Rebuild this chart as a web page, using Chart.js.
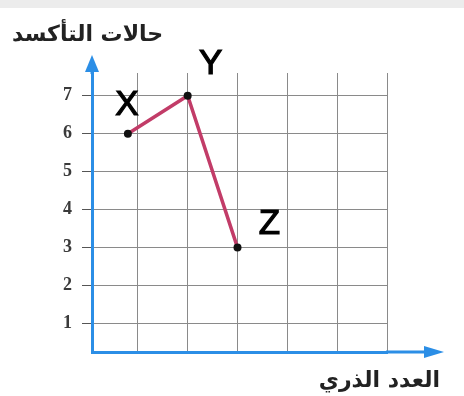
<!DOCTYPE html>
<html>
<head>
<meta charset="utf-8">
<script src="https://cdn.jsdelivr.net/npm/chart.js@4/dist/chart.umd.min.js"></script>
<style>html,body{margin:0;padding:0;background:#fff}</style>
</head>
<body>
<canvas id="chart" width="464" height="396"></canvas>
<script>
const pointNames = ["X", "Y", "Z"];
const atomicNumbers = [0.8, 2, 3];
const oxidationStates = [6, 7, 3];
const yTickValues = [1, 2, 3, 4, 5, 6, 7];
const xGridValues = [1, 2, 3, 4, 5, 6];
const yTitle = "حالات التأكسد";
const xTitle = "العدد الذري";

const BLUE = "#2b8ee6";

let ctx = document.getElementById("chart").getContext("2d");

const arrowsAndLabels = {
  id: "arrowsAndLabels",
  beforeDraw(chart) {
    const c = chart.ctx;
    c.save();
    c.fillStyle = "#ececec";
    c.fillRect(0, 0, chart.width, 8);
    c.restore();
  },
  afterDatasetsDraw(chart) {
    const c = chart.ctx;
    const a = chart.chartArea;
    c.save();
    // axis extensions + arrow heads
    c.strokeStyle = BLUE;
    c.fillStyle = BLUE;
    c.lineWidth = 3;
    c.beginPath();
    c.moveTo(a.left, a.top + 1);
    c.lineTo(a.left, 68);
    c.moveTo(a.right - 1, a.bottom);
    c.lineTo(428, a.bottom);
    c.stroke();
    c.beginPath();
    c.moveTo(a.left, 55);
    c.lineTo(a.left - 7, 72);
    c.lineTo(a.left + 7, 72);
    c.closePath();
    c.fill();
    c.beginPath();
    c.moveTo(444, a.bottom);
    c.lineTo(424, a.bottom - 6);
    c.lineTo(424, a.bottom + 6);
    c.closePath();
    c.fill();

    // x axis title
    c.fillStyle = "#222";
    c.font = "bold 22px 'DejaVu Sans'";
    c.textAlign = "right";
    c.textBaseline = "middle";
    c.fillText(xTitle, 440, 381);

    // point letters
    const offsets = [[-1, -28], [23, -31], [32, -23]];
    const meta = chart.getDatasetMeta(0);
    c.fillStyle = "#000";
    c.strokeStyle = "#000";
    c.lineWidth = 1.2;
    c.font = "35px 'Liberation Sans'";
    c.textAlign = "center";
    meta.data.forEach((pt, i) => {
      const x = pt.x + offsets[i][0];
      const y = pt.y + offsets[i][1];
      c.fillText(pointNames[i], x, y);
      c.strokeText(pointNames[i], x, y);
    });
    c.restore();
  },
};

new Chart(ctx, {
  type: "scatter",
  data: {
    datasets: [
      {
        label: "Oxidation states",
        data: atomicNumbers.map((x, i) => ({ x: x, y: oxidationStates[i] })),
        showLine: true,
        borderColor: "#c23c68",
        borderWidth: 3.5,
        backgroundColor: "#111",
        pointBackgroundColor: "#111",
        pointBorderColor: "#111",
        pointRadius: 4,
        pointBorderWidth: 0,
      },
    ],
  },
  options: {
    responsive: false,
    animation: false,
    layout: { padding: { left: 12, right: 77, top: 0, bottom: 0 } },
    plugins: {
      legend: { display: false },
      tooltip: { enabled: false },
      title: {
        display: true,
        text: yTitle,
        align: "start",
        color: "#222",
        font: { family: "'DejaVu Sans'", size: 22, weight: "bold", lineHeight: 1.2 },
        padding: { top: 21.8, bottom: 24.8 },
      },
    },
    scales: {
      x: {
        type: "linear",
        min: 0.08,
        max: 6,
        afterBuildTicks: (s) => { s.ticks = xGridValues.map((v) => ({ value: v })); },
        afterFit: (s) => { s.height = 44; },
        ticks: { display: false },
        grid: { color: "#8a8a8a", lineWidth: 1, drawTicks: false },
        border: { color: BLUE, width: 3 },
      },
      y: {
        type: "linear",
        min: 0.25,
        max: 7.6,
        afterBuildTicks: (s) => { s.ticks = yTickValues.map((v) => ({ value: v })); },
        afterFit: (s) => { s.width = 80; },
        ticks: {
          color: "#3a3a3a",
          padding: 10,
          font: { family: "'Liberation Serif'", size: 18, weight: "bold" },
        },
        grid: { color: "#8a8a8a", lineWidth: 1, tickLength: 10, tickColor: "#555" },
        border: { color: BLUE, width: 3 },
      },
    },
  },
  plugins: [arrowsAndLabels],
});
</script>
</body>
</html>
